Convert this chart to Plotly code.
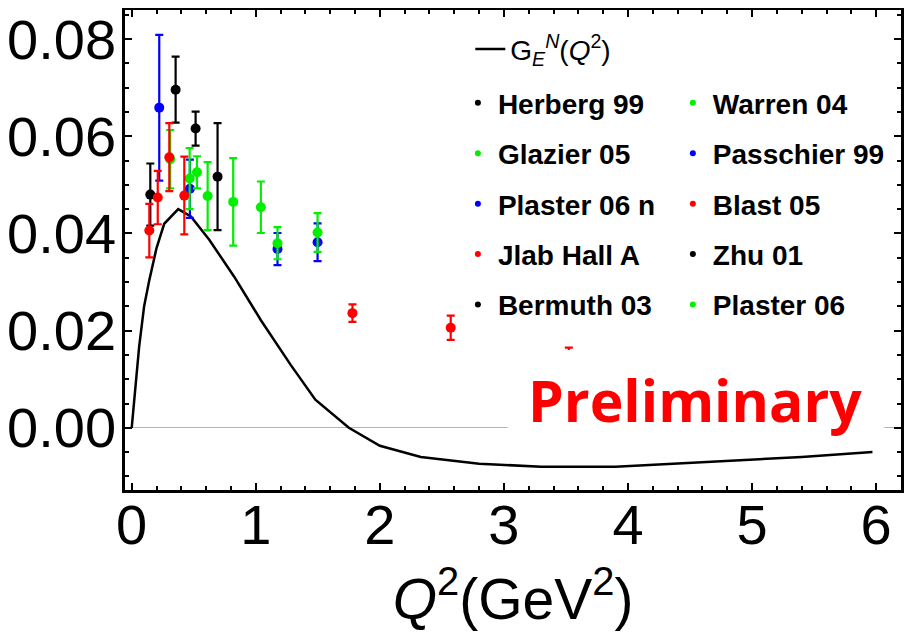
import plotly.graph_objects as go

# ---------------- data ----------------
curve_x = [0.0, 0.03, 0.06, 0.1, 0.142, 0.2, 0.262, 0.375, 0.477, 0.625, 0.826, 1.04, 1.28,
           1.48, 1.75, 2.0, 2.33, 2.8, 3.3, 3.9, 4.6, 5.4, 5.97]
curve_y = [0.0, 0.009, 0.0167, 0.025, 0.0304, 0.037, 0.042, 0.045, 0.0435, 0.0387, 0.0311,
           0.0222, 0.013, 0.0058, 0.0, -0.0037, -0.006, -0.0074, -0.008, -0.008, -0.007,
           -0.006, -0.005]

herberg_x = [0.15, 0.354]
herberg_y = [0.048, 0.0696]
herberg_e = [0.0064, 0.0068]

zhu_x = [0.515]
zhu_y = [0.0616]
zhu_e = [0.0035]

bermuth_x = [0.692]
bermuth_y = [0.0517]
bermuth_e = [0.011]

passchier_x = [0.222]
passchier_y = [0.0659]
passchier_e = [0.015]

warren_x = [0.526, 1.041]
warren_y = [0.0526, 0.0454]
warren_e = [0.0033, 0.0053]

glazier_x = [0.31, 0.612, 0.818]
glazier_y = [0.0553, 0.0477, 0.0465]
glazier_e = [0.006, 0.007, 0.009]

plaster06_x = [0.467, 1.175, 1.498]
plaster06_y = [0.0513, 0.038, 0.0402]
plaster06_e = [0.0063, 0.0033, 0.004]

plaster06n_x = [0.469, 1.175, 1.498]
plaster06n_y = [0.0492, 0.0368, 0.0382]
plaster06n_e = [0.006, 0.0033, 0.0039]

blast_x = [0.142, 0.21, 0.303, 0.424]
blast_y = [0.0406, 0.0474, 0.0557, 0.0478]
blast_e = [0.0055, 0.0055, 0.007, 0.008]

jlab_x = [1.779, 2.571, 3.523]
jlab_y = [0.0236, 0.0206, 0.0145]
jlab_e = [0.0018, 0.0025, 0.002]

x_ticks = [0, 1, 2, 3, 4, 5, 6]
y_ticks = [0.0, 0.02, 0.04, 0.06, 0.08]

BLACK = "#000000"
GREEN = "#00f000"
BLUE = "#0000ff"
RED = "#ff0000"

col1 = [("Herberg 99", BLACK), ("Glazier 05", GREEN), ("Plaster 06 n", BLUE),
        ("Jlab Hall A", RED), ("Bermuth 03", BLACK)]
col2 = [("Warren 04", GREEN), ("Passchier 99", BLUE), ("Blast 05", RED),
        ("Zhu 01", BLACK), ("Plaster 06", GREEN)]

series = [
    (glazier_x, glazier_y, glazier_e, GREEN),
    (plaster06n_x, plaster06n_y, plaster06n_e, BLUE),
    (plaster06_x, plaster06_y, plaster06_e, GREEN),
    (warren_x, warren_y, warren_e, GREEN),
    (passchier_x, passchier_y, passchier_e, BLUE),
    (herberg_x, herberg_y, herberg_e, BLACK),
    (zhu_x, zhu_y, zhu_e, BLACK),
    (bermuth_x, bermuth_y, bermuth_e, BLACK),
    (blast_x, blast_y, blast_e, RED),
    (jlab_x, jlab_y, jlab_e, RED),
]

fig = go.Figure()

fig.add_trace(go.Scatter(
    x=curve_x, y=curve_y, mode="lines",
    line=dict(color="black", width=2.5),
    name="G<sub><i>E</i></sub><sup><i>N</i></sup>(<i>Q</i><sup>2</sup>)",
    legend="legend3", showlegend=True,
))

for xs, ys, es, c in series:
    fig.add_trace(go.Scatter(
        x=xs, y=ys, mode="markers",
        marker=dict(color=c, size=10),
        error_y=dict(type="data", array=es, visible=True, color=c, thickness=2.2, width=4),
        showlegend=False, hoverinfo="x+y",
    ))

for i, (nm, c) in enumerate(col1):
    fig.add_trace(go.Scatter(x=[None], y=[None], mode="markers",
                             marker=dict(color=c, size=6), name="<b>" + nm + "</b>",
                             legend="legend", legendgroup="a%d" % i))
for i, (nm, c) in enumerate(col2):
    fig.add_trace(go.Scatter(x=[None], y=[None], mode="markers",
                             marker=dict(color=c, size=6), name="<b>" + nm + "</b>",
                             legend="legend2", legendgroup="b%d" % i))

# white box behind the "Preliminary" label
fig.add_shape(type="rect", xref="x", yref="y", x0=3.03, x1=6.065, y0=-0.002, y1=0.016,
              fillcolor="white", line=dict(width=0), layer="above")
fig.add_annotation(x=4.54, y=0.0058, xref="x", yref="y", text="<b>Preliminary</b>",
                   showarrow=False, font=dict(family="Open Sans", size=57, color="#ff0000"),
                   xanchor="center", yanchor="middle")

legend_common = dict(bgcolor="rgba(0,0,0,0)", borderwidth=0, tracegroupgap=11,
                     font=dict(family="Liberation Sans", size=28, color="black"),
                     xanchor="left", yanchor="top", traceorder="grouped")

fig.update_layout(
    width=910, height=629,
    margin=dict(l=117, r=17, t=2, b=147),
    plot_bgcolor="white", paper_bgcolor="white",
    showlegend=True,
    legend=dict(x=0.429, y=0.858, **legend_common),
    legend2=dict(x=0.706, y=0.858, **legend_common),
    legend3=dict(x=0.445, y=0.97, bgcolor="rgba(0,0,0,0)", borderwidth=0,
                 font=dict(family="Liberation Sans", size=28, color="black"),
                 xanchor="left", yanchor="top"),
    xaxis=dict(
        range=[-0.054, 6.2], tickvals=x_ticks, ticks="inside", ticklen=7, tickwidth=2,
        tickcolor="black", showline=True, linecolor="black", linewidth=2.5, mirror="allticks",
        showgrid=False, zeroline=False, automargin=False, ticklabelstandoff=-16,
        ticklabeloverflow="allow",
        minor=dict(dtick=0.2, ticks="inside", ticklen=4, tickwidth=1.5, tickcolor="black"),
        tickfont=dict(family="Liberation Sans", size=56, color="black"),
        title=dict(text="<i>Q</i><sup>2</sup>(GeV<sup>2</sup>)",
                   font=dict(family="Liberation Sans", size=57, color="black"), standoff=25),
    ),
    yaxis=dict(
        range=[-0.0128, 0.086], tickvals=y_ticks, tickformat=".2f", ticks="inside", ticklen=7,
        tickwidth=2, tickcolor="black", showline=True, linecolor="black", linewidth=2.5,
        mirror="allticks", showgrid=False, zeroline=True, zerolinecolor="#b4b4b4",
        zerolinewidth=1, automargin=False, ticklabelstandoff=-5, ticklabeloverflow="allow",
        minor=dict(dtick=0.005, ticks="inside", ticklen=4, tickwidth=1.5, tickcolor="black"),
        tickfont=dict(family="Liberation Sans", size=56, color="black"),
    ),
)

fig.write_html("out.html")
